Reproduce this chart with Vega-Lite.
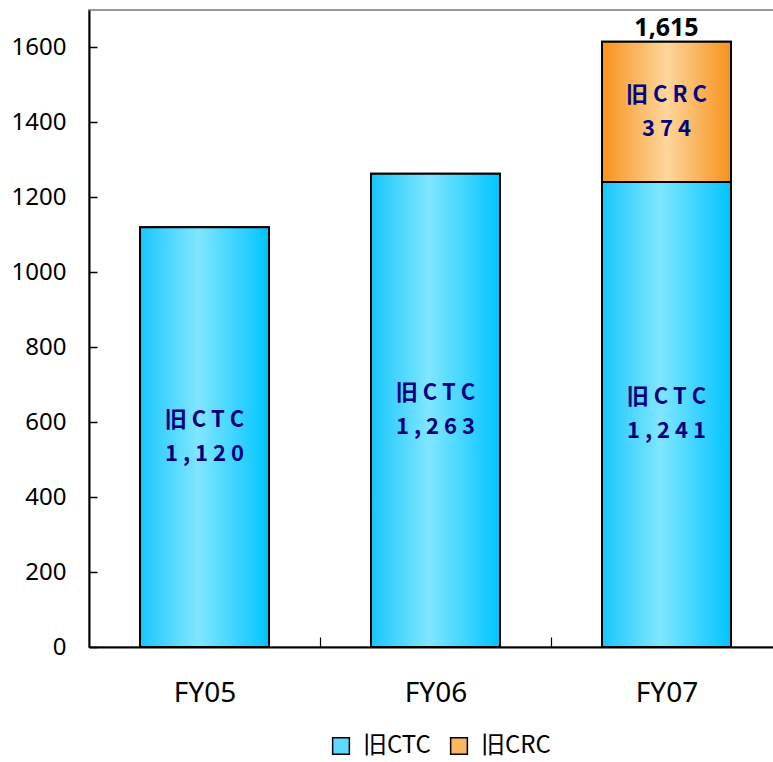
{
  "$schema": "https://vega.github.io/schema/vega-lite/v6.json",
  "autosize": "none",
  "padding": {"left": 89, "top": 10, "right": 0, "bottom": 115},
  "width": 693,
  "height": 637,
  "background": "white",
  "config": {
    "font": "Noto Sans CJK JP",
    "view": {"stroke": "#999999", "strokeWidth": 2}
  },
  "data": {
    "values": [
      {"year": "FY05", "series": "旧CTC", "value": 1120, "label": "旧 C T C\n 1 , 1 2 0"},
      {"year": "FY06", "series": "旧CTC", "value": 1263, "label": "旧 C T C\n1 , 2 6 3"},
      {"year": "FY07", "series": "旧CTC", "value": 1241, "label": "旧 C T C\n1 , 2 4 1"},
      {"year": "FY07", "series": "旧CRC", "value": 374, "label": "旧 C R C\n3 7 4"}
    ]
  },
  "encoding": {
    "x": {
      "field": "year",
      "type": "nominal",
      "title": null,
      "scale": {"paddingInner": 0.4416, "paddingOuter": 0.2208},
      "axis": {
        "labelAngle": 0,
        "labelFontSize": 28,
        "labelColor": "black",
        "labelFont": "Noto Sans",
        "ticks": true,
        "tickOffset": 115.5,
        "labelOffset": -115.5,
        "tickSize": -10,
        "tickColor": "black",
        "tickWidth": 1.2,
        "labelPadding": 42,
        "domainColor": "black",
        "domainWidth": 2,
        "zindex": 2
      }
    }
  },
  "layer": [
    {
      "mark": {"type": "bar", "stroke": "black", "strokeWidth": 2},
      "encoding": {
        "y": {
          "field": "value",
          "type": "quantitative",
          "stack": "zero",
          "title": null,
          "scale": {"domain": [0, 1700], "nice": false},
          "axis": {
            "values": [0, 200, 400, 600, 800, 1000, 1200, 1400, 1600],
            "format": "d",
            "grid": false,
            "labelFontSize": 24,
            "labelFont": "Noto Sans",
            "labelColor": "black",
            "ticks": true,
            "tickSize": -8,
            "tickColor": "black",
            "tickWidth": 1.5,
            "labelPadding": 31,
            "domainColor": "black",
            "domainWidth": 2,
            "zindex": 2
          }
        },
        "order": {"field": "series", "sort": "descending"},
        "color": {
          "field": "series",
          "type": "nominal",
          "scale": {"domain": ["旧CTC", "旧CRC"], "range": ["#5dd9ff", "#fbb661"]},
          "legend": {
            "title": null,
            "orient": "none",
            "legendX": 240,
            "legendY": 724,
            "direction": "horizontal",
            "symbolType": "square",
            "symbolSize": 280,
            "symbolStrokeColor": "black",
            "symbolStrokeWidth": 1.5,
            "symbolOpacity": 1,
            "labelFontSize": 24,
            "labelFont": "Noto Sans CJK JP",
            "labelColor": "black",
            "columnPadding": 16,
            "labelOffset": 10,
            "encode": {
              "symbols": {
                "update": {
                  "stroke": {"value": "black"},
                  "strokeWidth": {"value": 1.5},
                  "fill": {"signal": "datum.value == '旧CTC' ? {gradient: 'linear', x1: 0, y1: 0, x2: 1, y2: 0, stops: [{offset: 0, color: '#18c6fb'}, {offset: 0.45, color: '#80e6ff'}, {offset: 1, color: '#00c4ff'}]} : {gradient: 'linear', x1: 0, y1: 0, x2: 1, y2: 0, stops: [{offset: 0, color: '#f7941d'}, {offset: 0.5, color: '#fed69c'}, {offset: 1, color: '#f7921c'}]}"}
                }
              }
            }
          }
        }
      }
    },
    {
      "mark": {"type": "bar", "stroke": "black", "strokeWidth": 2},
      "encoding": {
        "y": {"field": "value", "type": "quantitative", "stack": "zero"},
        "order": {"field": "series", "sort": "descending"},
        "detail": {"field": "series"},
        "color": {
          "condition": {
            "test": "datum.series == '旧CRC'",
            "value": {"gradient": "linear", "x1": 0, "y1": 0, "x2": 1, "y2": 0,
              "stops": [{"offset": 0, "color": "#f7941d"}, {"offset": 0.5, "color": "#fed69c"}, {"offset": 1, "color": "#f7921c"}]}
          },
          "value": {"gradient": "linear", "x1": 0, "y1": 0, "x2": 1, "y2": 0,
            "stops": [{"offset": 0, "color": "#18c6fb"}, {"offset": 0.45, "color": "#80e6ff"}, {"offset": 1, "color": "#00c4ff"}]}
        }
      }
    },
    {
      "mark": {"type": "text", "lineBreak": "\n", "fontSize": 22, "fontWeight": "bold", "color": "#00007f", "lineHeight": 34, "baseline": "middle", "dy": -17},
      "encoding": {
        "y": {"field": "value", "type": "quantitative", "stack": "zero", "bandPosition": 0.5},
        "order": {"field": "series", "sort": "descending"},
        "detail": {"field": "series"},
        "text": {"field": "label"}
      }
    },
    {
      "transform": [{"filter": "datum.year == 'FY07'"}],
      "mark": {"type": "text", "fontSize": 25, "fontWeight": "bold", "color": "black", "baseline": "bottom", "dy": -1, "font": "Noto Sans"},
      "encoding": {
        "y": {"aggregate": "sum", "field": "value", "type": "quantitative"},
        "text": {"aggregate": "sum", "field": "value", "type": "quantitative", "format": ","}
      }
    }
  ]
}
